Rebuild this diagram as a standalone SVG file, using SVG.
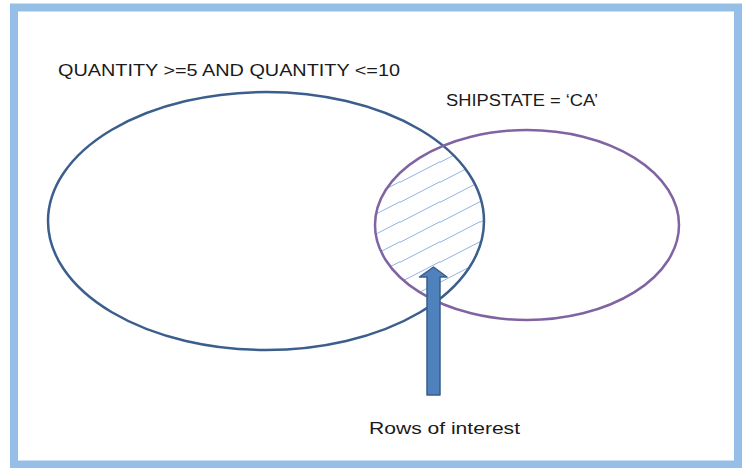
<svg xmlns="http://www.w3.org/2000/svg" width="745" height="468" viewBox="0 0 745 468">
<style>
.lbl{font-family:"Liberation Sans",Arial,sans-serif;font-size:16px;fill:#1a1a1a}
</style>
<defs>
<pattern id="hatch" patternUnits="userSpaceOnUse" width="40" height="20" patternTransform="translate(0,2)">
<line x1="-40" y1="41" x2="80" y2="-21" stroke="#8eb4e3" stroke-width="1"/>
<line x1="-40" y1="21" x2="80" y2="-41" stroke="#8eb4e3" stroke-width="1"/>
<line x1="-40" y1="61" x2="80" y2="-1" stroke="#8eb4e3" stroke-width="1"/>
</pattern>
<clipPath id="clipSmall"><ellipse cx="527" cy="225" rx="152" ry="95"/></clipPath>
</defs>
<rect x="0" y="0" width="745" height="468" fill="#fff"/>
<rect x="14" y="7.5" width="724" height="457" fill="none" stroke="#95bfe6" stroke-width="8"/>
<g id="hatching" clip-path="url(#clipSmall)">
<ellipse cx="266" cy="221" rx="218" ry="129" fill="url(#hatch)"/>
</g>
<g id="set-quantity">
<ellipse cx="266" cy="221" rx="218" ry="129" fill="none" stroke="#3b5e8c" stroke-width="2.5"/>
<text class="lbl" x="58" y="76" textLength="342" lengthAdjust="spacingAndGlyphs">QUANTITY &gt;=5 AND QUANTITY &lt;=10</text>
</g>
<g id="set-shipstate">
<ellipse cx="527" cy="225" rx="152" ry="95" fill="none" stroke="#8064a2" stroke-width="2.5"/>
<text class="lbl" x="446" y="106" textLength="152" lengthAdjust="spacingAndGlyphs">SHIPSTATE = ‘CA’</text>
</g>
<g id="connectors">
<path d="M427,395 L427,277 L419.5,277 L433.5,267 L447,277 L440,277 L440,395 Z" fill="#4f81bd" stroke="#385d8a" stroke-width="1.5" stroke-linejoin="round"/>
</g>
<g id="rows-of-interest">
<text class="lbl" x="369" y="434" textLength="151" lengthAdjust="spacingAndGlyphs">Rows of interest</text>
</g>
</svg>
